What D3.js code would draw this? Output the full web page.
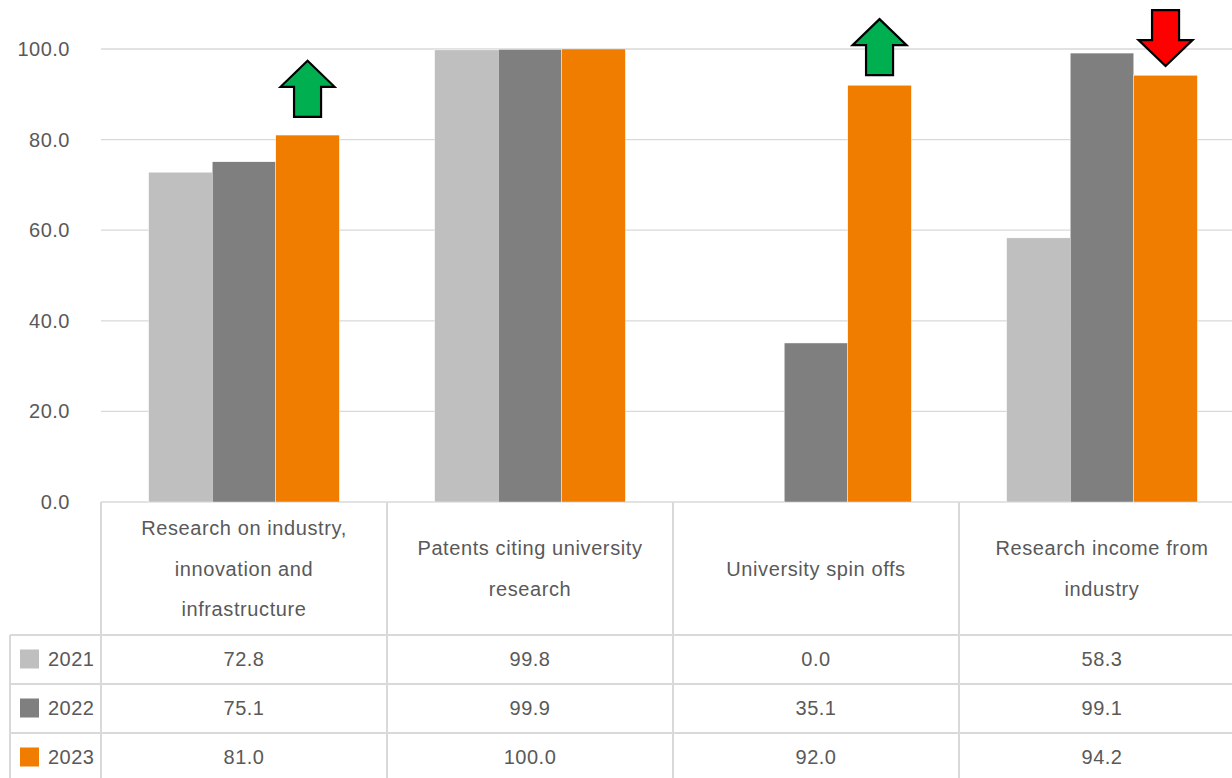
<!DOCTYPE html>
<html><head><meta charset="utf-8">
<script src="https://cdn.jsdelivr.net/npm/d3@7"></script>
<style>
body{margin:0;background:#fff;}
svg{display:block;font-family:"Liberation Sans",Arial,sans-serif;}
</style></head>
<body><svg id="chart" width="1232" height="778"></svg>
<script>
// ---- data ----
const categories = ["Research on industry, innovation and infrastructure","Patents citing university research","University spin offs","Research income from industry"];
const categoryLines = [["Research on industry,","innovation and","infrastructure"],["Patents citing university","research"],["University spin offs"],["Research income from","industry"]];
const years = ["2021","2022","2023"];
const values2021 = [72.8, 99.8, 0.0, 58.3];
const values2022 = [75.1, 99.9, 35.1, 99.1];
const values2023 = [81.0, 100.0, 92.0, 94.2];
const yTicks = [0, 20, 40, 60, 80, 100];
const colors = ["#bfbfbf", "#7f7f7f", "#f07c00"];
// arrow annotations (category index, direction, top level in axis units)
const arrowCats = [0, 2, 3];
const arrowDirs = ["up", "up", "down"];
const arrowTops = [97.4, 106.6, 108.6];
const arrowColors = {up: "#00b050", down: "#ff0000"};

const series = [values2021, values2022, values2023];

// ---- layout ----
const svg = d3.select("#chart");
const W = 1232, H = 778;
const left = 101, catW = 286;
const right = left + catW * categories.length;
const yTop = 49, yBase = 502;
const headerBottom = 635, rowH = 49, tableLeft = 10;
const textColor = "#595959", lineColor = "#d9d9d9";
const fontSize = 20;

const x0 = d3.scaleBand().domain(categories).range([left, right]).padding(0);
const x1 = d3.scaleBand().domain(years).range([0, x0.bandwidth()]).paddingInner(0).paddingOuter(0.75);
const y = d3.scaleLinear().domain([0, 100]).range([yBase, yTop]);

// gridlines
svg.append("g").selectAll("line").data(yTicks).join("line")
  .attr("x1", left).attr("x2", right)
  .attr("y1", d => y(d)).attr("y2", d => y(d))
  .attr("stroke", lineColor).attr("stroke-width", 1.3);

// y axis labels
const yAxis = d3.axisLeft(y).tickValues(yTicks).tickFormat(d3.format(".1f")).tickSize(0).tickPadding(31);
const ga = svg.append("g").attr("transform", `translate(${left},0)`).call(yAxis);
ga.select(".domain").remove();
ga.selectAll("text").attr("fill", textColor).attr("font-size", fontSize)
  .attr("font-family", "Liberation Sans, Arial, sans-serif").style("letter-spacing", "0.5px");

// bars
const gBars = svg.append("g");
years.forEach((yr, si) => {
  gBars.append("g").selectAll("rect").data(categories).join("rect")
    .attr("x", c => x0(c) + x1(yr))
    .attr("width", x1.bandwidth())
    .attr("y", (c, i) => y(series[si][i]))
    .attr("height", (c, i) => yBase - y(series[si][i]))
    .attr("fill", colors[si])
    .attr("stroke", "#ffffff").attr("stroke-width", 0.4);
});

// arrows
const aw = 54, ah = 56, sw = 27, hh = 26;
arrowCats.forEach((ci, k) => {
  const cx = x0(categories[ci]) + x1("2023") + x1.bandwidth() / 2;
  const top = y(arrowTops[k]);
  let pts;
  if (arrowDirs[k] === "up") {
    pts = [[cx, top], [cx + aw/2, top + hh], [cx + sw/2, top + hh], [cx + sw/2, top + ah],
           [cx - sw/2, top + ah], [cx - sw/2, top + hh], [cx - aw/2, top + hh]];
  } else {
    pts = [[cx - sw/2, top], [cx + sw/2, top], [cx + sw/2, top + ah - hh], [cx + aw/2, top + ah - hh],
           [cx, top + ah], [cx - aw/2, top + ah - hh], [cx - sw/2, top + ah - hh]];
  }
  svg.append("path").attr("d", d3.line()(pts) + "Z")
    .attr("fill", arrowColors[arrowDirs[k]]).attr("stroke", "#000").attr("stroke-width", 2.2)
    .attr("stroke-linejoin", "miter");
});

// data table
const gT = svg.append("g");
const lineW = 2;
[0, 1, 2, 3].forEach(r => {
  const yy = headerBottom + r * rowH;
  gT.append("line").attr("x1", tableLeft).attr("x2", right).attr("y1", yy).attr("y2", yy)
    .attr("stroke", lineColor).attr("stroke-width", lineW);
});
gT.append("line").attr("x1", tableLeft).attr("x2", tableLeft).attr("y1", headerBottom).attr("y2", H + 10)
  .attr("stroke", lineColor).attr("stroke-width", lineW);
categories.forEach(c => {
  gT.append("line").attr("x1", x0(c)).attr("x2", x0(c)).attr("y1", yBase).attr("y2", H + 10)
    .attr("stroke", lineColor).attr("stroke-width", lineW);
});
gT.append("line").attr("x1", right).attr("x2", right).attr("y1", yBase).attr("y2", H + 10)
  .attr("stroke", lineColor).attr("stroke-width", lineW);

// header labels
const lineH = 40.5;
const headerMid = (yBase + headerBottom) / 2;
categories.forEach((c, i) => {
  const lines = categoryLines[i];
  const cx = x0(c) + x0.bandwidth() / 2;
  lines.forEach((t, j) => {
    gT.append("text").attr("x", cx)
      .attr("y", headerMid + (j - (lines.length - 1) / 2) * lineH)
      .attr("dy", "0.35em").attr("text-anchor", "middle")
      .attr("fill", textColor).attr("font-size", fontSize).style("letter-spacing", "0.6px")
      .text(t);
  });
});

// rows
const fmt = d3.format(".1f");
years.forEach((yr, si) => {
  const cy = headerBottom + si * rowH + 24;
  gT.append("rect").attr("x", 20).attr("y", cy - 9.5).attr("width", 19).attr("height", 19).attr("fill", colors[si]);
  gT.append("text").attr("x", 48).attr("y", cy).attr("dy", "0.35em")
    .attr("fill", textColor).attr("font-size", fontSize).style("letter-spacing", "0.5px").text(yr);
  categories.forEach((c, i) => {
    gT.append("text").attr("x", x0(c) + x0.bandwidth() / 2).attr("y", cy).attr("dy", "0.35em")
      .attr("text-anchor", "middle").attr("fill", textColor).attr("font-size", fontSize)
      .style("letter-spacing", "0.5px").text(fmt(series[si][i]));
  });
});
</script></body></html>
